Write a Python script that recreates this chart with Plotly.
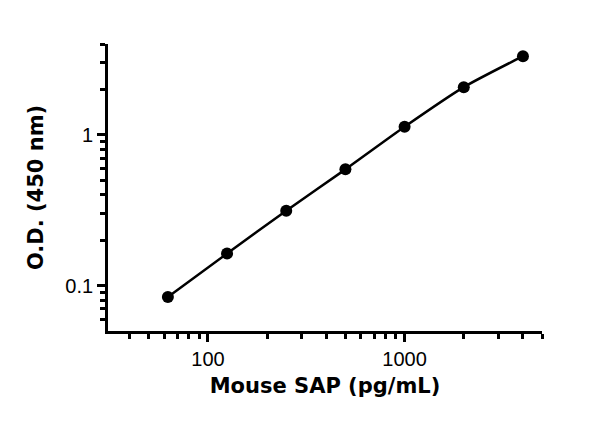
import numpy as np
import plotly.graph_objects as go

conc = [62.5, 125, 250, 500, 1000, 2000, 4000]
od = [0.084, 0.163, 0.314, 0.59, 1.13, 2.07, 3.32]

x_tick_vals = [100, 1000]
x_tick_text = ["100", "1000"]
x_minor_vals = [40, 50, 60, 70, 80, 90, 200, 300, 400, 500, 600, 700, 800, 900,
                2000, 3000, 4000, 5000]
y_tick_vals = [0.1, 1]
y_tick_text = ["0.1", "1"]
y_minor_vals = [0.06, 0.07, 0.08, 0.09, 0.2, 0.3, 0.4, 0.5, 0.6, 0.7, 0.8, 0.9,
                2, 3, 4]

fig = go.Figure()
fig.add_trace(go.Scatter(
    x=conc, y=od, mode="lines+markers",
    line=dict(color="black", width=2.5, shape="spline", smoothing=0.6),
    marker=dict(color="black", size=12),
    showlegend=False,
))

title_font = dict(family="DejaVu Sans", size=21, color="black")

fig.update_layout(
    width=600, height=421,
    margin=dict(l=100, r=66, t=36, b=98),
    plot_bgcolor="white", paper_bgcolor="white",
    xaxis=dict(
        type="log", showgrid=False, zeroline=False,
        showline=True, linecolor="black", linewidth=2.8,
        ticks="outside", ticklen=8, tickwidth=2.5, tickcolor="black",
        automargin=False,
        range=[np.log10(31), np.log10(5000)],
        tickmode="array", tickvals=x_tick_vals, ticktext=x_tick_text,
        minor=dict(tickmode="array", tickvals=x_minor_vals, ticks="outside", ticklen=5,
                   tickwidth=2.5, tickcolor="black", showgrid=False),
        title=dict(text="<b>Mouse SAP (pg/mL)</b>", standoff=10, font=title_font),
    ),
    yaxis=dict(
        type="log", showgrid=False, zeroline=False,
        showline=True, linecolor="black", linewidth=2.8,
        ticks="outside", ticklen=8, tickwidth=2.5, tickcolor="black",
        automargin=False,
        range=[np.log10(0.05), np.log10(4)],
        tickmode="array", tickvals=y_tick_vals, ticktext=y_tick_text,
        minor=dict(tickmode="array", tickvals=y_minor_vals, ticks="outside", ticklen=5,
                   tickwidth=2.5, tickcolor="black", showgrid=False),
        title=dict(text="<b>O.D. (450 nm)</b>", standoff=16, font=title_font),
    ),
)
fig.update_xaxes(tickfont_size=20, tickfont_family="Liberation Sans", tickfont_color="black")
fig.update_yaxes(tickfont_size=20, tickfont_family="Liberation Sans", tickfont_color="black")

fig.write_html("out.html")
